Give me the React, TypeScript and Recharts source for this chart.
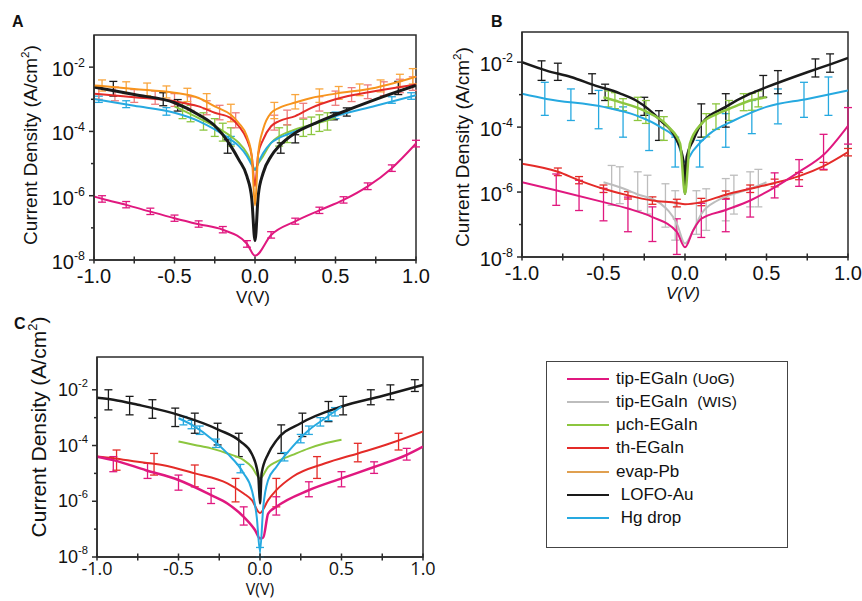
import React from 'react';
import {
  ComposedChart,
  Line,
  Scatter,
  ErrorBar,
  XAxis,
  YAxis,
  ReferenceArea,
} from 'recharts';

const SANS = '"Liberation Sans", Arial, sans-serif';
const OPEN = '"Open Sans", "Liberation Sans", sans-serif';
const FRAME = '#2b2b2b';

const MAGENTA = '#e0187f';
const GRAY = '#bdbdbd';
const GREEN = '#8cc63f';
const RED = '#e42b28';
const ORANGE = '#f7941d';
const BLACK = '#1a1a1a';
const BLUE = '#26a9e0';

const X_TICKS = [-1, -0.75, -0.5, -0.25, 0, 0.25, 0.5, 0.75, 1];
const X_MAJOR = [-1, -0.5, 0, 0.5, 1];
const Y_TICKS = [1e-8, 1e-7, 1e-6, 1e-5, 1e-4, 1e-3, 1e-2];

const LEGEND_NAMES = ['tip-EGaIn ', 'tip-EGaIn  ', 'μch-EGaIn', 'th-EGaIn', 'evap-Pb', ' LOFO-Au', ' Hg drop'];
const LEGEND_TAGS = ['(UoG)', '(WIS)', '', '', '', '', ''];
const LEGEND_COLORS = [MAGENTA, GRAY, GREEN, RED, '#e0a050', BLACK, BLUE];

// ---- panel A ----
const A_V = [-1, -0.75, -0.5, -0.35, -0.25, -0.15, -0.1, -0.05, -0.02, 0, 0.02, 0.05, 0.1, 0.15, 0.25, 0.35, 0.5, 0.75, 1];
const A_LOFO = [2.4e-3, 1.4e-3, 7.8e-4, 3.3e-4, 1.5e-4, 3.5e-5, 1.3e-5, 4e-6, 8e-7, 4e-8, 1e-6, 5e-6, 1.7e-5, 3.5e-5, 9e-5, 1.6e-4, 3.3e-4, 1e-3, 2.7e-3];
const A_EVAP = [2.7e-3, 2.1e-3, 1.6e-3, 1.1e-3, 6e-4, 3.3e-4, 1.8e-4, 7e-5, 1.7e-5, 5e-7, 2.1e-5, 1.15e-4, 3.8e-4, 5.4e-4, 7.9e-4, 1.1e-3, 1.5e-3, 2.3e-3, 5e-3];
const A_TH = [1.5e-3, 1.15e-3, 8.7e-4, 6e-4, 3.8e-4, 2.6e-4, 1.45e-4, 5.5e-5, 1.7e-5, 2e-6, 2e-5, 5.5e-5, 1.45e-4, 2.1e-4, 3e-4, 5.4e-4, 1e-3, 1.8e-3, 2.9e-3];
const A_HG = [1.02e-3, 6.3e-4, 3.8e-4, 2.1e-4, 1.15e-4, 5.5e-5, 3.5e-5, 1.7e-5, 9.1e-6, 6.5e-6, 1.05e-5, 2.1e-5, 4.4e-5, 6.3e-5, 1e-4, 1.6e-4, 3e-4, 6.3e-4, 1.35e-3];
const A_UCH_V = [-0.5, -0.35, -0.25, -0.15, -0.1, -0.05, -0.02, 0, 0.02, 0.05, 0.1, 0.15, 0.25, 0.35, 0.5];
const A_UCH = [6e-4, 2.6e-4, 1.45e-4, 7e-5, 4.4e-5, 2.1e-5, 1.05e-5, 6.3e-6, 1e-5, 1.7e-5, 4.4e-5, 7e-5, 1.15e-4, 1.6e-4, 2.6e-4];
const A_UOG_V = [-1, -0.95, -0.8, -0.65, -0.5, -0.35, -0.2, -0.05, 0, 0.1, 0.25, 0.4, 0.55, 0.7, 0.85, 1];
const A_UOG = [9.5e-7, 8e-7, 5.2e-7, 3.2e-7, 2e-7, 1.3e-7, 8.7e-8, 3.2e-8, 1.35e-8, 6e-8, 1.6e-7, 3.5e-7, 7.4e-7, 1.95e-6, 7.2e-6, 4.2e-5];

const A_UOG_EV = [-0.95, -0.8, -0.65, -0.5, -0.35, -0.2, -0.05, 0.1, 0.25, 0.4, 0.55, 0.7, 0.85, 1];
const A_UOG_LO = [6.3e-7, 4.2e-7, 2.6e-7, 1.6e-7, 1.05e-7, 7e-8, 2.5e-8, 4.8e-8, 1.3e-7, 2.8e-7, 5.9e-7, 1.55e-6, 5.7e-6, 3.3e-5];
const A_UOG_HI = [1e-6, 6.6e-7, 4.1e-7, 2.5e-7, 1.65e-7, 1.1e-7, 4e-8, 7.6e-8, 2e-7, 4.4e-7, 9.3e-7, 2.5e-6, 9.1e-6, 5.3e-5];
const A_LOFO_EV = [-0.88, -0.57, -0.48, -0.17, 0.16, 0.25, 0.49, 0.57, 0.89];
const A_LOFO_LO = [1.26e-3, 6.3e-4, 4.3e-4, 2.1e-5, 2.1e-5, 4.4e-5, 2.3e-4, 3e-4, 1.4e-3];
const A_LOFO_HI = [3.6e-3, 1.6e-3, 9.8e-4, 5.5e-5, 4.4e-5, 7.9e-5, 3.8e-4, 5.4e-4, 3.6e-3];
const A_EVAP_EV = [-0.95, -0.8, -0.67, -0.55, -0.42, -0.3, -0.15, 0.12, 0.25, 0.4, 0.52, 0.65, 0.78, 0.9, 0.98];
const A_EVAP_LO = [1.8e-3, 1.5e-3, 1.3e-3, 1.1e-3, 8.5e-4, 5e-4, 2e-4, 2.5e-4, 5e-4, 8e-4, 1e-3, 1.3e-3, 1.7e-3, 2.4e-3, 3e-3];
const A_EVAP_HI = [4e-3, 3.5e-3, 3.2e-3, 2.6e-3, 2.2e-3, 1.5e-3, 7e-4, 8e-4, 1.4e-3, 2.1e-3, 2.5e-3, 3e-3, 4e-3, 6e-3, 9e-3];
const A_TH_EV = [-0.97, -0.87, -0.75, -0.62, -0.5, -0.4, -0.3, -0.22, -0.12, 0.12, 0.2, 0.3, 0.4, 0.5, 0.6, 0.7, 0.8, 0.9, 0.98];
const A_TH_LO = [1e-3, 9e-4, 8e-4, 7e-4, 6e-4, 4.5e-4, 3.3e-4, 2.3e-4, 1.3e-4, 1.1e-4, 1.6e-4, 2.6e-4, 4.3e-4, 6.5e-4, 8.5e-4, 1.05e-3, 1.3e-3, 1.6e-3, 1.9e-3];
const A_TH_HI = [2.6e-3, 2.4e-3, 2e-3, 1.8e-3, 1.5e-3, 1.2e-3, 9e-4, 6.5e-4, 3.8e-4, 3.2e-4, 4.6e-4, 7.5e-4, 1.2e-3, 1.8e-3, 2.3e-3, 2.8e-3, 3.5e-3, 4.2e-3, 5e-3];
const A_UCH_EV = [-0.45, -0.4, -0.32, -0.25, -0.2, -0.15, 0.15, 0.2, 0.3, 0.35, 0.4, 0.45];
const A_UCH_LO = [2.5e-4, 2e-4, 1.1e-4, 7e-5, 5e-5, 3.5e-5, 3.5e-5, 4.5e-5, 7e-5, 8e-5, 1e-4, 1.1e-4];
const A_UCH_HI = [8e-4, 6.5e-4, 3.8e-4, 2.5e-4, 1.8e-4, 1.3e-4, 1.3e-4, 1.6e-4, 2.4e-4, 2.8e-4, 3.3e-4, 3.8e-4];
const A_HG_EV = [-0.97, -0.8, -0.55, -0.15, 0.5, 0.85, 0.97];
const A_HG_LO = [8e-4, 5.5e-4, 3.2e-4, 4e-5, 2.5e-4, 7.5e-4, 1e-3];
const A_HG_HI = [1.25e-3, 9e-4, 5.5e-4, 7e-5, 4e-4, 1.2e-3, 1.6e-3];

// ---- panel B ----
const B_LOFO_V = [-1, -0.85, -0.7, -0.55, -0.4, -0.3, -0.15, -0.05, -0.01, 0, 0.01, 0.05, 0.1, 0.25, 0.4, 0.5, 0.75, 0.9, 1];
const B_LOFO = [1e-2, 5.5e-3, 3.5e-3, 1.9e-3, 1.1e-3, 6.6e-4, 1.6e-4, 3.9e-5, 9.3e-6, 8.9e-7, 1.2e-5, 3.9e-5, 1.26e-4, 4.2e-4, 1.07e-3, 1.7e-3, 4.9e-3, 8.9e-3, 1.35e-2];
const B_LOFO_EV = [-0.88, -0.78, -0.57, -0.49, -0.25, -0.16, 0.1, 0.25, 0.48, 0.57, 0.8, 0.89];
const B_LOFO_LO = [2.75e-3, 2.75e-3, 1.07e-3, 6.6e-4, 2.3e-4, 3.9e-5, 4.9e-5, 1e-4, 8.3e-4, 1.07e-3, 3.5e-3, 4.9e-3];
const B_LOFO_HI = [1.1e-2, 9.3e-3, 4.4e-3, 2.1e-3, 8.3e-4, 3.2e-4, 5.2e-4, 1.07e-3, 3.9e-3, 5.5e-3, 1.26e-2, 1.8e-2];
const B_UCH_V = [-0.5, -0.4, -0.25, -0.1, -0.03, 0, 0.03, 0.1, 0.2, 0.3, 0.4, 0.5];
const B_UCH = [8.3e-4, 5.9e-4, 3.2e-4, 1e-4, 3.1e-5, 8.9e-7, 3.1e-5, 1.26e-4, 2.6e-4, 4.2e-4, 6.6e-4, 8.3e-4];
const B_UCH_EV = [-0.47, -0.43, -0.38, -0.29, -0.24, -0.13, 0.13, 0.19, 0.27, 0.36, 0.41, 0.45];
const B_UCH_LO = [4.2e-4, 3.7e-4, 3.2e-4, 1.6e-4, 1.3e-4, 3.9e-5, 5e-5, 8.5e-5, 1.6e-4, 3.2e-4, 3.3e-4, 4.2e-4];
const B_UCH_HI = [1.3e-3, 1.15e-3, 7.5e-4, 8.3e-4, 6.6e-4, 2.1e-4, 2.6e-4, 5.2e-4, 6.6e-4, 1.07e-3, 1.1e-3, 1.3e-3];
const B_HG_V = [-1, -0.85, -0.5, -0.3, -0.15, -0.05, 0, 0.05, 0.15, 0.3, 0.5, 0.75, 1];
const B_HG = [1.07e-3, 7.4e-4, 4.2e-4, 2.3e-4, 1e-4, 3.9e-5, 8.3e-6, 1.9e-5, 6.2e-5, 1.6e-4, 4.2e-4, 7.4e-4, 1.35e-3];
const B_HG_EV = [-0.86, -0.7, -0.53, -0.38, -0.22, -0.06, 0.09, 0.25, 0.41, 0.57, 0.73, 0.88];
const B_HG_LO = [2.3e-4, 1.6e-4, 8.9e-5, 4.9e-5, 1.9e-5, 5.9e-6, 5.9e-6, 2.4e-5, 6.3e-5, 1.26e-4, 2e-4, 2.3e-4];
const B_HG_HI = [2.4e-3, 1.5e-3, 1.35e-3, 4.2e-4, 2.6e-4, 4.9e-5, 3.9e-5, 2.6e-4, 6.6e-4, 1.5e-3, 2.4e-3, 3.5e-3];
const B_TH_V = [-1, -0.78, -0.65, -0.5, -0.35, -0.2, -0.05, 0, 0.1, 0.25, 0.4, 0.55, 0.7, 0.85, 1];
const B_TH = [7.4e-6, 4.2e-6, 2.3e-6, 1.26e-6, 7.9e-7, 5.5e-7, 4.6e-7, 4.2e-7, 4.9e-7, 8.3e-7, 1.26e-6, 1.9e-6, 3.1e-6, 6.3e-6, 1.7e-5];
const B_TH_EV = [-0.78, -0.65, -0.5, -0.35, -0.2, -0.05, 0.1, 0.25, 0.4, 0.55, 0.7, 0.85, 1];
const B_TH_LO = [3.2e-6, 1.8e-6, 9.7e-7, 6.1e-7, 4.2e-7, 3.5e-7, 3.8e-7, 6.4e-7, 9.7e-7, 1.45e-6, 2.4e-6, 4.8e-6, 1.3e-5];
const B_TH_HI = [5.5e-6, 3e-6, 1.65e-6, 1.03e-6, 7.1e-7, 6e-7, 6.4e-7, 1.08e-6, 1.65e-6, 2.5e-6, 4e-6, 8.2e-6, 2.2e-5];
const B_UOG_V = [-1, -0.78, -0.5, -0.35, -0.2, -0.05, 0, 0.05, 0.1, 0.25, 0.4, 0.55, 0.7, 0.85, 1];
const B_UOG = [2e-6, 1.1e-6, 4.9e-7, 3.1e-7, 1.7e-7, 5.9e-8, 2e-8, 6.6e-8, 1.5e-7, 2.8e-7, 5.5e-7, 1.4e-6, 4.2e-6, 1.4e-5, 1.1e-4];
const B_UOG_EV = [-0.79, -0.65, -0.5, -0.35, -0.2, -0.05, 0.1, 0.25, 0.4, 0.55, 0.7, 0.85, 1];
const B_UOG_LO = [3.9e-7, 2.7e-7, 1.3e-7, 6e-8, 3e-8, 1.2e-8, 4e-8, 6e-8, 1.7e-7, 6.6e-7, 1.5e-6, 5e-6, 3e-5];
const B_UOG_HI = [3.6e-6, 2.3e-6, 1.3e-6, 7e-7, 3.5e-7, 1.5e-7, 4.5e-7, 6e-7, 1.3e-6, 3.9e-6, 1e-5, 6e-5, 4e-4];
const B_WIS_V = [-0.5, -0.4, -0.3, -0.15, -0.05, 0, 0.05, 0.1, 0.2, 0.3, 0.4, 0.5];
const B_WIS = [2e-6, 1.4e-6, 8.9e-7, 4.4e-7, 1.07e-7, 2.6e-8, 6.6e-8, 2.1e-7, 5.5e-7, 8.9e-7, 1.26e-6, 2e-6];
const B_WIS_EV = [-0.45, -0.4, -0.29, -0.23, -0.12, -0.06, 0.07, 0.13, 0.25, 0.3, 0.4, 0.45];
const B_WIS_LO = [3.9e-7, 4.4e-7, 2.7e-7, 2.1e-7, 8.3e-8, 3.3e-8, 5e-8, 6.6e-8, 1.3e-7, 2.1e-7, 3.5e-7, 3.5e-7];
const B_WIS_HI = [6.6e-6, 6e-6, 4.2e-6, 3.3e-6, 1.8e-6, 1.1e-6, 1.1e-6, 1.26e-6, 2.6e-6, 3.3e-6, 4.2e-6, 5e-6];

// ---- panel C ----
const C_LOFO_V = [-1, -0.9, -0.75, -0.5, -0.25, -0.12, -0.05, -0.01, 0, 0.01, 0.05, 0.1, 0.25, 0.5, 0.75, 1];
const C_LOFO = [5.2e-3, 4.4e-3, 2.9e-3, 1.26e-3, 3.6e-4, 1.4e-4, 5e-5, 7.6e-6, 8.3e-7, 1e-5, 5e-5, 1.5e-4, 6.3e-4, 2.5e-3, 6e-3, 1.5e-2];
const C_LOFO_EV = [-0.93, -0.8, -0.66, -0.52, -0.4, -0.26, -0.13, 0.13, 0.26, 0.42, 0.51, 0.68, 0.8, 0.95];
const C_LOFO_LO = [1.9e-3, 1.26e-3, 9.5e-4, 4.8e-4, 2.75e-4, 1.05e-4, 4e-5, 5.2e-5, 2.1e-4, 7.2e-4, 1.26e-3, 2.9e-3, 4.4e-3, 8.7e-3];
const C_LOFO_HI = [1e-2, 5.8e-3, 4.4e-3, 2.2e-3, 1.45e-3, 6.3e-4, 2.75e-4, 5.5e-4, 1.45e-3, 3.8e-3, 5.8e-3, 1e-2, 1.5e-2, 2.3e-2];
const C_HG_V = [-0.5, -0.4, -0.3, -0.2, -0.1, -0.05, -0.02, 0, 0.02, 0.05, 0.1, 0.2, 0.3, 0.4, 0.5];
const C_HG = [9.5e-4, 4.8e-4, 1.8e-4, 5.2e-5, 1e-5, 2.5e-6, 2.75e-7, 1.6e-8, 6.3e-7, 5.8e-6, 1.7e-5, 9.1e-5, 3.6e-4, 9.5e-4, 2.5e-3];
const C_HG_EV = [-0.47, -0.42, -0.37, -0.27, -0.12, 0, 0.15, 0.25, 0.3, 0.37, 0.42, 0.46];
const C_HG_LO = [5.5e-4, 4e-4, 2.5e-4, 8.5e-5, 1.05e-5, 1e-8, 2.8e-5, 1.25e-4, 2.5e-4, 5e-4, 7.8e-4, 1.15e-3];
const C_HG_HI = [1.1e-3, 8e-4, 5e-4, 1.7e-4, 2.1e-5, 2.2e-8, 5.6e-5, 2.5e-4, 5e-4, 1e-3, 1.55e-3, 2.3e-3];
const C_UCH_V = [-0.5, -0.4, -0.3, -0.2, -0.1, -0.05, 0, 0.05, 0.1, 0.2, 0.3, 0.4, 0.5];
const C_UCH = [1.4e-4, 1.05e-4, 7.9e-5, 5.2e-5, 3e-5, 1.7e-5, 6.6e-6, 1.7e-5, 2.6e-5, 4.6e-5, 7.9e-5, 1.2e-4, 1.6e-4];
const C_TH_V = [-1, -0.9, -0.75, -0.6, -0.4, -0.2, -0.1, -0.05, 0, 0.05, 0.1, 0.2, 0.4, 0.6, 0.8, 1];
const C_TH = [4e-5, 3.5e-5, 2.6e-5, 2e-5, 1e-5, 4.4e-6, 1.9e-6, 1.1e-6, 3.8e-7, 1.1e-6, 2.5e-6, 7.6e-6, 2.3e-5, 5.2e-5, 1.2e-4, 3.2e-4];
const C_TH_EV = [-0.88, -0.65, -0.4, -0.15, 0.1, 0.35, 0.6, 0.85];
const C_TH_LO = [1.3e-5, 8.7e-6, 3.3e-6, 9.5e-7, 6.3e-7, 6.6e-6, 2.6e-5, 6.9e-5];
const C_TH_HI = [6.9e-5, 5.2e-5, 2e-5, 6.6e-6, 6.6e-6, 4e-5, 1.2e-4, 2.75e-4];
const C_UOG_V = [-1, -0.9, -0.7, -0.5, -0.3, -0.2, -0.1, -0.03, 0, 0.02, 0.05, 0.1, 0.3, 0.5, 0.7, 0.9, 1];
const C_UOG = [4e-5, 3e-5, 1.3e-5, 5.8e-6, 1.66e-6, 8.3e-7, 2.75e-7, 9.1e-8, 4.6e-8, 5e-8, 3.6e-7, 6.3e-7, 2.5e-6, 6.6e-6, 1.7e-5, 4.6e-5, 9.1e-5];
const C_UOG_EV = [-0.9, -0.69, -0.5, -0.3, -0.1, 0.1, 0.3, 0.5, 0.7, 0.9];
const C_UOG_LO = [1.15e-5, 6.6e-6, 2.5e-6, 8.3e-7, 1.4e-7, 3.2e-7, 1.45e-6, 3.3e-6, 1e-5, 3e-5];
const C_UOG_HI = [4e-5, 2.3e-5, 8.7e-6, 2.9e-6, 6.3e-7, 1.45e-6, 5e-6, 1.15e-5, 2.6e-5, 7.9e-5];

interface Series {
  color: string;
  barColor?: string;
  width: number;
  v: number[];
  j: number[];
  ev?: number[];
  lo?: number[];
  hi?: number[];
}

const toLine = (v: number[], j: number[]) => v.map((x, i) => ({ v: x, j: j[i] }));
// error bars: point sits on the low end, bar reaches up to the high end
const toBars = (v: number[], lo: number[], hi: number[]) =>
  v.map((x, i) => ({ v: x, j: lo[i], err: [0, hi[i] - lo[i]] }));

const SERIES_A: Series[] = [
  { color: MAGENTA, width: 2, v: A_UOG_V, j: A_UOG, ev: A_UOG_EV, lo: A_UOG_LO, hi: A_UOG_HI },
  { color: GREEN, width: 2, v: A_UCH_V, j: A_UCH, ev: A_UCH_EV, lo: A_UCH_LO, hi: A_UCH_HI },
  { color: BLUE, width: 2, v: A_V, j: A_HG, ev: A_HG_EV, lo: A_HG_LO, hi: A_HG_HI },
  { color: RED, barColor: '#ee7c7c', width: 2, v: A_V, j: A_TH, ev: A_TH_EV, lo: A_TH_LO, hi: A_TH_HI },
  { color: BLACK, width: 3, v: A_V, j: A_LOFO, ev: A_LOFO_EV, lo: A_LOFO_LO, hi: A_LOFO_HI },
  { color: ORANGE, barColor: '#f9a63e', width: 2, v: A_V, j: A_EVAP, ev: A_EVAP_EV, lo: A_EVAP_LO, hi: A_EVAP_HI },
];

const SERIES_B: Series[] = [
  { color: GRAY, width: 2, v: B_WIS_V, j: B_WIS, ev: B_WIS_EV, lo: B_WIS_LO, hi: B_WIS_HI },
  { color: RED, width: 2, v: B_TH_V, j: B_TH, ev: B_TH_EV, lo: B_TH_LO, hi: B_TH_HI },
  { color: MAGENTA, width: 2, v: B_UOG_V, j: B_UOG, ev: B_UOG_EV, lo: B_UOG_LO, hi: B_UOG_HI },
  { color: BLUE, width: 2, v: B_HG_V, j: B_HG, ev: B_HG_EV, lo: B_HG_LO, hi: B_HG_HI },
  { color: BLACK, width: 2.5, v: B_LOFO_V, j: B_LOFO, ev: B_LOFO_EV, lo: B_LOFO_LO, hi: B_LOFO_HI },
  { color: GREEN, width: 2.5, v: B_UCH_V, j: B_UCH, ev: B_UCH_EV, lo: B_UCH_LO, hi: B_UCH_HI },
];

const SERIES_C: Series[] = [
  { color: RED, width: 2, v: C_TH_V, j: C_TH, ev: C_TH_EV, lo: C_TH_LO, hi: C_TH_HI },
  { color: MAGENTA, width: 2.5, v: C_UOG_V, j: C_UOG, ev: C_UOG_EV, lo: C_UOG_LO, hi: C_UOG_HI },
  { color: GREEN, width: 2, v: C_UCH_V, j: C_UCH },
  { color: BLACK, width: 2.5, v: C_LOFO_V, j: C_LOFO, ev: C_LOFO_EV, lo: C_LOFO_LO, hi: C_LOFO_HI },
  { color: BLUE, width: 2, v: C_HG_V, j: C_HG, ev: C_HG_EV, lo: C_HG_LO, hi: C_HG_HI },
];

const NoDot = () => <g />;

function XTick(props: any) {
  const { x, y, payload, font, size, gap } = props;
  const val = payload.value as number;
  const major = X_MAJOR.includes(val);
  return (
    <g>
      <line x1={x} x2={x} y1={y - 3.5} y2={y + 3.5} stroke={FRAME} strokeWidth={1.5} />
      {major && (
        <text x={x} y={y + gap} textAnchor="middle" fontSize={size} fontFamily={font} fill="#111">
          {val.toFixed(1)}
        </text>
      )}
    </g>
  );
}

function YTick(props: any) {
  const { x, y, payload, size, base } = props;
  const e = Math.round(Math.log10(payload.value));
  const major = e % 2 === 0;
  return (
    <g>
      <line x1={x} x2={x - (major ? 5 : 3)} y1={y} y2={y} stroke={FRAME} strokeWidth={1.5} />
      {major && (
        <text x={x - 9} y={y + base} textAnchor="end" fontSize={size} fontFamily={SANS} fill="#111">
          <tspan>10</tspan>
          <tspan dy={-9} fontSize={size * 0.62}>{e}</tspan>
        </text>
      )}
    </g>
  );
}

function YTitle({ px, py, size }: any) {
  return (
    <text
      x={px}
      y={py}
      transform={`rotate(-90 ${px} ${py})`}
      textAnchor="middle"
      fontSize={size}
      fontFamily={SANS}
      fill="#111"
    >
      Current Density (A/cm
      <tspan dy={-size * 0.42} fontSize={size * 0.62}>2</tspan>
      <tspan dy={size * 0.42}>)</tspan>
    </text>
  );
}

function XTitle({ px, py, size, font, italic }: any) {
  return (
    <text x={px} y={py} textAnchor="middle" fontSize={size} fontFamily={font} fontStyle={italic ? 'italic' : 'normal'} fill="#111">
      V(V)
    </text>
  );
}

interface PanelProps {
  left: number;
  top: number;
  width: number;
  height: number;
  margin: { top: number; right: number; bottom: number; left: number };
  yMax: number;
  series: Series[];
  yTitle: { px: number; py: number; size: number };
  xTitle: { px: number; py: number; size: number; font: string; italic?: boolean };
  xFont: string;
  xSize: number;
  xGap: number;
  ySize: number;
  yBase: number;
}

function Panel(p: PanelProps) {
  return (
    <div style={{ position: 'absolute', left: p.left, top: p.top }}>
      <ComposedChart width={p.width} height={p.height} margin={p.margin}>
        <XAxis
          type="number"
          dataKey="v"
          domain={[-1, 1]}
          ticks={X_TICKS}
          interval={0}
          allowDataOverflow
          height={30}
          tickLine={false}
          tickSize={0}
          tickMargin={0}
          axisLine={{ stroke: FRAME, strokeWidth: 1.5 }}
          tick={(t: any) => <XTick {...t} font={p.xFont} size={p.xSize} gap={p.xGap} />}
          label={<XTitle {...p.xTitle} />}
        />
        <YAxis
          type="number"
          scale="log"
          domain={[1e-8, p.yMax]}
          ticks={Y_TICKS}
          interval={0}
          allowDataOverflow
          width={60}
          tickLine={false}
          tickSize={0}
          tickMargin={0}
          axisLine={{ stroke: FRAME, strokeWidth: 1.5 }}
          tick={(t: any) => <YTick {...t} size={p.ySize} base={p.yBase} />}
          label={<YTitle {...p.yTitle} />}
        />
        <ReferenceArea
          x1={-1}
          x2={1}
          y1={1e-8}
          y2={p.yMax}
          ifOverflow="visible"
          fill="none"
          stroke={FRAME}
          strokeWidth={1.5}
        />
        {p.series
          .filter((s) => s.ev)
          .map((s, i) => (
            <Scatter
              key={`e${i}`}
              data={toBars(s.ev!, s.lo!, s.hi!)}
              dataKey="j"
              shape={NoDot}
              isAnimationActive={false}
            >
              <ErrorBar dataKey="err" direction="y" width={4} stroke={s.barColor || s.color} strokeWidth={1.3} />
            </Scatter>
          ))}
        {p.series.map((s, i) => (
          <Line
            key={`l${i}`}
            data={toLine(s.v, s.j)}
            dataKey="j"
            type="monotone"
            stroke={s.color}
            strokeWidth={s.width}
            dot={false}
            activeDot={false}
            isAnimationActive={false}
          />
        ))}
      </ComposedChart>
    </div>
  );
}

function LegendBox() {
  return (
    <div
      style={{
        position: 'absolute',
        left: 546,
        top: 361,
        width: 242,
        height: 187,
        border: '1.5px solid #444',
        boxSizing: 'border-box',
        fontFamily: SANS,
        color: '#111',
      }}
    >
      {LEGEND_NAMES.map((name, i) => (
        <div
          key={i}
          style={{
            position: 'absolute',
            left: 20,
            top: 16.5 + i * 23.3 - 11,
            height: 22,
            display: 'flex',
            alignItems: 'center',
            whiteSpace: 'pre',
          }}
        >
          <div style={{ width: 42, height: 2, background: LEGEND_COLORS[i], marginRight: 7 }} />
          <span style={{ fontSize: 17 }}>{name}</span>
          {LEGEND_TAGS[i] && <span style={{ fontSize: 15.5 }}>{LEGEND_TAGS[i]}</span>}
        </div>
      ))}
    </div>
  );
}

const letter = (left: number, top: number): React.CSSProperties => ({
  position: 'absolute',
  left,
  top,
  fontSize: 16,
  lineHeight: '16px',
  fontWeight: 'bold',
  fontFamily: SANS,
  color: '#111',
});

export default function App() {
  return (
    <div
      style={{
        position: 'fixed',
        left: 0,
        top: 0,
        width: 862,
        height: 601,
        background: '#fff',
        overflow: 'hidden',
        fontFamily: SANS,
      }}
    >
      <Panel
        left={0}
        top={0}
        width={430}
        height={310}
        margin={{ top: 35, right: 14, bottom: 20, left: 34 }}
        yMax={0.1}
        series={SERIES_A}
        yTitle={{ px: 37, py: 145, size: 19 }}
        xTitle={{ px: 253, py: 303, size: 17, font: SANS }}
        xFont={SANS}
        xSize={20}
        xGap={23}
        ySize={20}
        yBase={9}
      />
      <Panel
        left={430}
        top={0}
        width={432}
        height={310}
        margin={{ top: 32, right: 14, bottom: 23, left: 32 }}
        yMax={0.085}
        series={SERIES_B}
        yTitle={{ px: 39, py: 147, size: 19 }}
        xTitle={{ px: 253, py: 299, size: 17, font: SANS, italic: true }}
        xFont={SANS}
        xSize={20}
        xGap={23}
        ySize={20}
        yBase={9}
      />
      <Panel
        left={0}
        top={300}
        width={440}
        height={301}
        margin={{ top: 57, right: 17, bottom: 14, left: 37 }}
        yMax={0.15}
        series={SERIES_C}
        yTitle={{ px: 46, py: 127, size: 21 }}
        xTitle={{ px: 260, py: 295, size: 16, font: OPEN }}
        xFont={OPEN}
        xSize={18}
        xGap={18}
        ySize={18}
        yBase={6}
      />
      <LegendBox />
      <div style={letter(12, 14)}>A</div>
      <div style={letter(491, 14)}>B</div>
      <div style={letter(14, 316)}>C</div>
    </div>
  );
}
